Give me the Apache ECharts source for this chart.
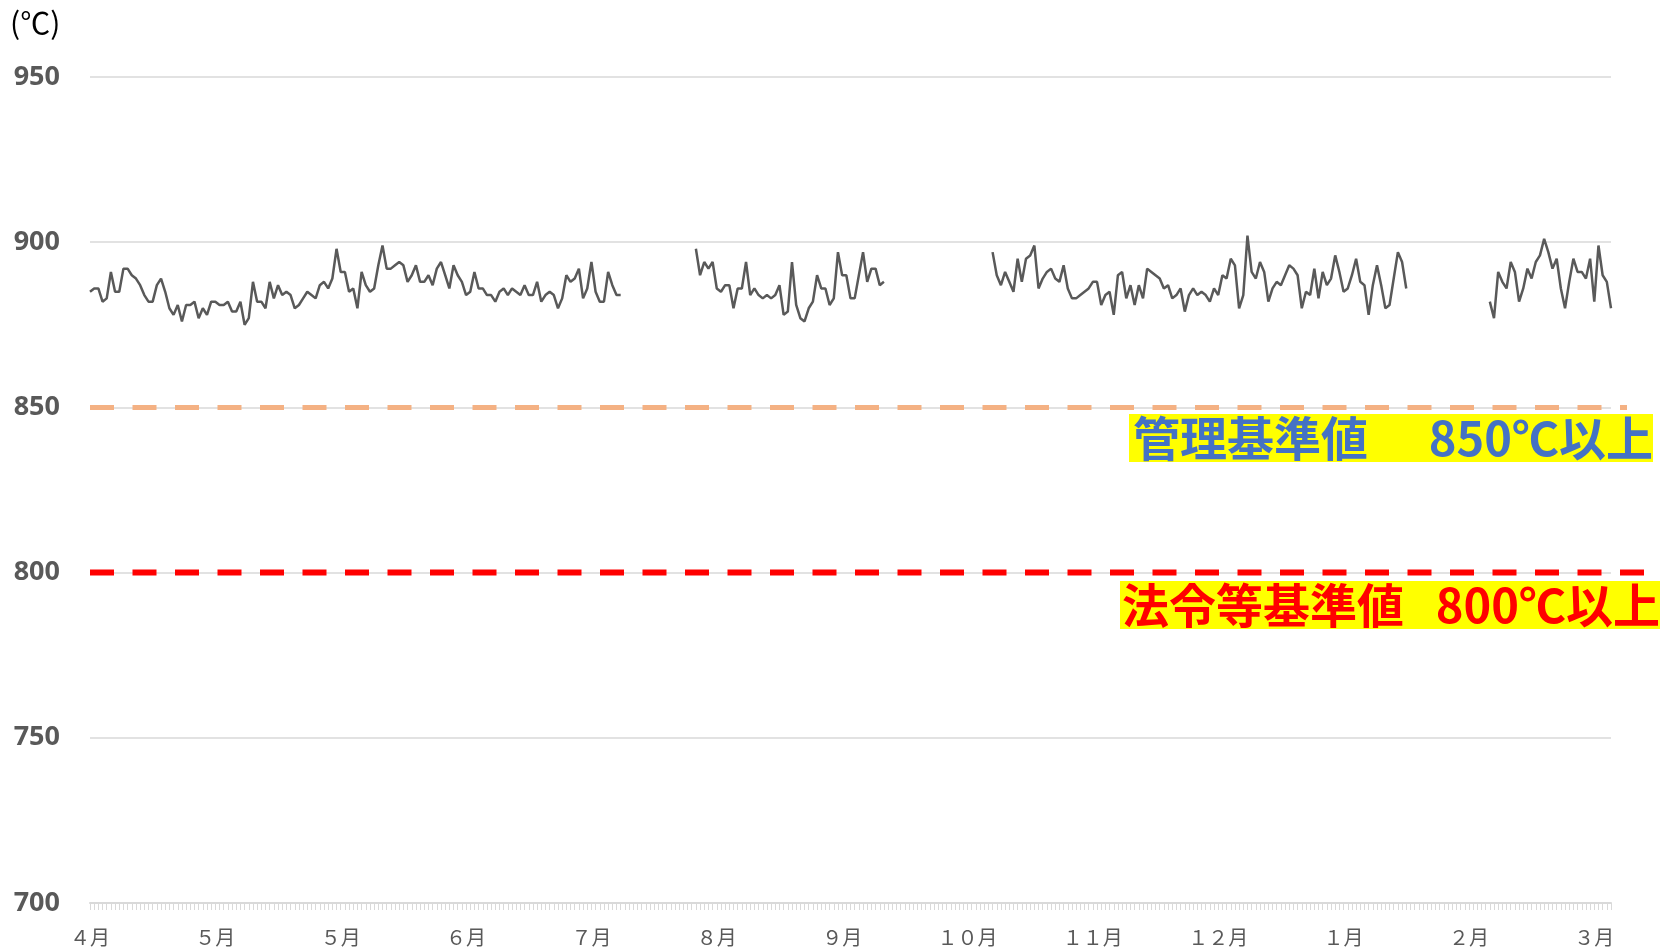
<!DOCTYPE html>
<html lang="ja">
<head>
<meta charset="utf-8">
<title>燃焼温度の推移</title>
<script src="https://cdn.jsdelivr.net/npm/echarts@6.0.0/dist/echarts.min.js"></script>
<style>
  html, body { margin: 0; padding: 0; background: #ffffff; }
  #chart { width: 1665px; height: 952px; }
</style>
</head>
<body>
<div id="chart"></div>
<script>
// Daily furnace temperature (℃) for one fiscal year, April 1 onward; null = not operating.
const seriesAprJul = [
  885, 886, 886, 882, 883, 891, 885, 885, 892, 892,
  890, 889, 887, 884, 882, 882, 887, 889, 885, 880,
  878, 881, 876, 881, 881, 882, 877, 880, 878, 882,
  882, 881, 881, 882, 879, 879, 882, 875, 877, 888,
  882, 882, 880, 888, 883, 887, 884, 885, 884, 880,
  881, 883, 885, 884, 883, 887, 888, 886, 889, 898,
  891, 891, 885, 886, 880, 891, 887, 885, 886, 893,
  899, 892, 892, 893, 894,
  893, 888, 890, 893, 888, 888, 890, 887, 892, 894,
  890, 886, 893, 890, 888, 884, 885, 891, 886, 886,
  884, 884, 882, 885, 886, 884, 886, 885, 884, 887,
  884, 884, 888, 882, 884, 885, 884, 880, 883, 890,
  888, 889, 892, 883, 886, 894, 885, 882, 882, 891,
  887, 884, 884
];
const stopJul = 17;
const seriesAugSep = [
  898, 890, 894, 892, 894, 886, 885, 887, 887, 880,
  886, 886, 894, 884, 886, 884, 883, 884, 883, 884,
  887, 878, 879, 894, 881, 877, 876, 880, 882, 890,
  886, 886, 881, 883, 897, 890, 890, 883, 883, 890,
  897, 888, 892, 892, 887, 888
];
const stopSepOct = 25;
const seriesOctJan = [
  897, 890, 887, 891, 888, 885, 895, 888, 895, 896,
  899, 886, 889, 891, 892, 889, 888, 893, 886, 883,
  883, 884, 885, 886, 888, 888, 881, 884, 885, 878,
  890, 891, 883, 887, 881, 887, 883, 892, 891, 890,
  889, 886, 887, 883, 884, 886, 879, 884, 886, 884,
  885, 884, 882, 886, 884, 890, 889, 895, 893, 880,
  884, 902, 891, 889, 894, 891, 882, 886, 888, 887,
  890, 893, 892, 890, 880, 885, 884, 892, 883, 891,
  887, 889, 896, 891, 885, 886, 890, 895, 888, 887,
  878, 887, 893, 887, 880, 881, 889, 897, 894, 886
];
const stopFeb = 19;
const seriesFebMar = [
  882, 877, 891, 888, 886, 894, 891, 882, 886, 892,
  889, 894, 896, 901, 897, 892, 895, 886, 880, 888,
  895, 891, 891, 889, 895, 882, 899, 890, 888, 880
];

// Month tick labels, one every 30 days
const monthLabels = ['４月', '５月', '５月', '６月', '７月', '８月', '９月', '１０月', '１１月', '１２月', '１月', '２月', '３月'];
const labelStep = 30;

const yTicks = { min: 700, max: 950, step: 50 };

// Reference limits
const limits = [
  { value: 850, color: '#f4b183', width: 5, overshoot: 16, label: '管理基準値', amount: '850℃以上', textColor: '#4472c4' },
  { value: 800, color: '#ff0000', width: 6, overshoot: 35, label: '法令等基準値', amount: '800℃以上', textColor: '#ff0000' }
];

const gaps = (n) => new Array(n).fill(null);
const temperature = [].concat(
  seriesAprJul, gaps(stopJul),
  seriesAugSep, gaps(stopSepOct),
  seriesOctJan, gaps(stopFeb),
  seriesFebMar
);

// One category per calendar day starting April 1
const days = temperature.map((_, i) => {
  const d = new Date(Date.UTC(2022, 3, 1 + i));
  return d.toISOString().slice(0, 10);
});

const chart = echarts.init(document.getElementById('chart'), null, { renderer: 'canvas' });

chart.setOption({
  animation: false,
  backgroundColor: '#ffffff',
  grid: { left: 90, right: 54, top: 77, bottom: 49, containLabel: false },
  xAxis: {
    type: 'category',
    data: days,
    boundaryGap: false,
    axisLine: { show: true, lineStyle: { color: '#d9d9d9', width: 2 } },
    axisTick: { show: true, interval: 0, length: 7, lineStyle: { color: '#d9d9d9', width: 1 } },
    axisLabel: {
      interval: (i) => i % labelStep === 0,
      formatter: (v, i) => monthLabels[Math.round(i / labelStep)] || '',
      margin: 24,
      fontSize: 20,
      color: '#595959',
      fontFamily: '"Noto Sans CJK JP", sans-serif'
    },
    splitLine: { show: false }
  },
  yAxis: {
    type: 'value',
    min: yTicks.min,
    max: yTicks.max,
    interval: yTicks.step,
    axisLine: { show: false },
    axisTick: { show: false },
    axisLabel: {
      margin: 30,
      fontSize: 27,
      fontWeight: 'bold',
      color: '#595959',
      fontFamily: '"Noto Sans", "Liberation Sans", sans-serif'
    },
    splitLine: { lineStyle: { color: '#d9d9d9', width: 1.5 } }
  },
  series: [{
    name: '燃焼温度',
    type: 'line',
    data: temperature,
    showSymbol: false,
    connectNulls: false,
    lineStyle: { color: '#595959', width: 2.5 },
    itemStyle: { color: '#595959' },
    z: 5
  }]
});

// Dashed limit lines and their captions, placed through the axis scales
const xStart = chart.convertToPixel({ xAxisIndex: 0 }, days[0]);
const xEnd = chart.convertToPixel({ xAxisIndex: 0 }, days[days.length - 1]);
const font = 'bold 47px "Noto Sans CJK JP", sans-serif';
const graphics = [
  {
    type: 'text', left: 10, top: 8,
    style: { text: '(℃)', font: '30px "Noto Sans CJK JP", sans-serif', fill: '#000000' }
  }
];
const boxes = [
  { left: 1129, right: 1653, top: 414, height: 48, textLeft: 1133 },
  { left: 1120, right: 1660, top: 581, height: 48, textLeft: 1122 }
];
limits.forEach((lim, k) => {
  const y = chart.convertToPixel({ yAxisIndex: 0 }, lim.value);
  graphics.push({
    type: 'line', z: 10,
    shape: { x1: xStart, y1: y, x2: xEnd + lim.overshoot, y2: y },
    style: { stroke: lim.color, lineWidth: lim.width, lineDash: [24, 18.5] }
  });
  const b = boxes[k];
  const cy = b.top + b.height / 2;
  graphics.push({
    type: 'rect', z: 20,
    shape: { x: b.left, y: b.top, width: b.right - b.left, height: b.height },
    style: { fill: '#ffff00' }
  });
  graphics.push({
    type: 'text', z: 21, x: b.textLeft, y: cy,
    style: { text: lim.label, font: font, fill: lim.textColor, align: 'left', verticalAlign: 'middle', textAlign: 'left', textVerticalAlign: 'middle' }
  });
  graphics.push({
    type: 'text', z: 21, x: b.right, y: cy,
    style: { text: lim.amount, font: font, fill: lim.textColor, align: 'right', verticalAlign: 'middle', textAlign: 'right', textVerticalAlign: 'middle' }
  });
});
chart.setOption({ graphic: graphics });
</script>
</body>
</html>
